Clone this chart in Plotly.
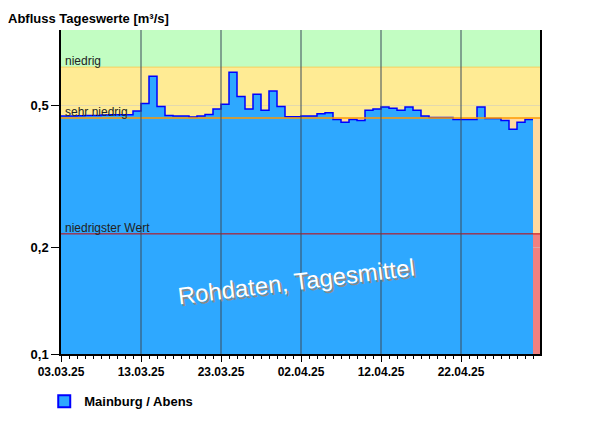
import numpy as np
import pandas as pd
import plotly.graph_objects as go

# daily discharge values, Mainburg / Abens, 03.03.25 - 30.04.25 (m³/s)
start_date = "2025-03-03"
flow = [0.468, 0.468, 0.469, 0.470, 0.470, 0.471, 0.472, 0.472, 0.472, 0.484,
        0.508, 0.606, 0.498, 0.470, 0.468, 0.468, 0.465, 0.468, 0.473, 0.490,
        0.505, 0.622, 0.531, 0.490, 0.539, 0.486, 0.551, 0.498, 0.466, 0.466,
        0.468, 0.468, 0.475, 0.478, 0.458, 0.450, 0.458, 0.455, 0.486, 0.490,
        0.496, 0.492, 0.486, 0.496, 0.486, 0.468, 0.464, 0.464, 0.464, 0.458,
        0.458, 0.458, 0.496, 0.461, 0.461, 0.455, 0.430, 0.450, 0.458]

# thresholds
niedrig = 0.643
sehr_niedrig = 0.462
niedrigster = 0.218
y_min, y_max = 0.1, 0.818

dates = pd.date_range(start_date, periods=len(flow), freq="D")
day_ms = 86400000
lg = np.log10

fig = go.Figure()

# filled daily bars
fig.add_trace(go.Bar(
    x=dates + pd.Timedelta(hours=12), y=flow, width=day_ms,
    marker=dict(color="#2ea8ff", line=dict(width=0)),
    showlegend=False, hoverinfo="skip"))

# step outline
step_x = list(dates) + [dates[-1] + pd.Timedelta(days=1)]
step_y = flow + [flow[-1]]
fig.add_trace(go.Scatter(
    x=step_x, y=step_y, mode="lines", line=dict(color="#0000ff", width=1.5, shape="hv"),
    showlegend=False, hoverinfo="skip"))

# legend entry
fig.add_trace(go.Scatter(
    x=[None], y=[None], mode="markers", name="<b>Mainburg / Abens</b>",
    marker=dict(symbol="square", size=12, color="#2ea8ff", line=dict(color="#0000ff", width=1.5))))

# background bands (shape y in data units)
bands = [(niedrig, y_max, "#c2fdc2"), (sehr_niedrig, niedrig, "#ffeb94"),
         (niedrigster, sehr_niedrig, "#ffd9a0"), (y_min, niedrigster, "#f08080")]
for lo, hi, col in bands:
    fig.add_shape(type="rect", xref="paper", x0=0, x1=1, y0=lo, y1=hi,
                  fillcolor=col, line=dict(width=0), layer="below")
fig.add_shape(type="line", xref="paper", x0=0, x1=1, y0=niedrig, y1=niedrig,
              line=dict(color="#f5d060", width=1), layer="below")
fig.add_shape(type="line", xref="paper", x0=0, x1=1, y0=sehr_niedrig, y1=sehr_niedrig,
              line=dict(color="#ff9900", width=1.5))
fig.add_shape(type="line", xref="paper", x0=0, x1=1, y0=niedrigster, y1=niedrigster,
              line=dict(color="#cc0000", width=1))

# vertical grid above fill
for d in pd.date_range(start_date, periods=6, freq="10D")[1:]:
    fig.add_shape(type="line", x0=d, x1=d, yref="paper", y0=0, y1=1,
                  line=dict(color="#3a4a5a", width=1))

for txt, val in [("niedrig", niedrig), ("sehr niedrig", sehr_niedrig), ("niedrigster Wert", niedrigster)]:
    fig.add_annotation(text=txt, xref="paper", x=0.005, y=lg(val), xanchor="left", yanchor="bottom",
                       showarrow=False, yshift=-3, font=dict(size=12, color="#222222"))

# watermark
fig.add_annotation(text="Rohdaten, Tagesmittel", xref="paper", yref="paper", x=0.49, y=0.13,
                   showarrow=False, textangle=-7, font=dict(size=24, color="#8a8a8a"),
                   xshift=2, yshift=-2)
fig.add_annotation(text="Rohdaten, Tagesmittel", xref="paper", yref="paper", x=0.49, y=0.13,
                   showarrow=False, textangle=-7, font=dict(size=24, color="white"))

fig.update_layout(
    width=600, height=426,
    paper_bgcolor="white", plot_bgcolor="white",
    margin=dict(l=53, r=68, t=22, b=80, autoexpand=False),
    font=dict(family="Liberation Sans, Arial", size=12, color="#000000"),
    bargap=0,
    title=dict(text="<b>Abfluss Tageswerte [m³/s]</b>", x=0.0, xanchor="left", y=1.0,
               yanchor="top", pad=dict(t=6), font=dict(size=13), automargin=False),
    legend=dict(orientation="h", x=-0.035, y=-0.1, xanchor="left", yanchor="top",
                font=dict(size=13), itemsizing="constant"),
    showlegend=True,
)
fig.update_xaxes(
    type="date", range=[start_date, "2025-05-01 21:00:00"], automargin=False,
    tick0=start_date, dtick=10 * day_ms, tickformat="<b>%d.%m.%y</b>",
    ticks="outside", ticklen=6, tickcolor="black", showgrid=False,
    showline=True, linecolor="black", linewidth=1.5,
    tickfont=dict(size=12),
    minor=dict(dtick=day_ms, ticks="outside", ticklen=3, tickcolor="black", showgrid=False),
)
fig.update_yaxes(
    type="log", range=[lg(y_min), lg(y_max)], automargin=False,
    tickvals=[0.1, 0.2, 0.5], ticktext=["<b>0,1</b>", "<b>0,2</b>", "<b>0,5</b>"],
    ticks="outside", ticklen=8, tickcolor="black",
    showgrid=True, gridcolor="rgba(200,200,200,0.5)",
    showline=True, linecolor="black", linewidth=1.5, mirror=True,
    zeroline=False, tickfont=dict(size=13),
)

fig.write_html("out.html")
